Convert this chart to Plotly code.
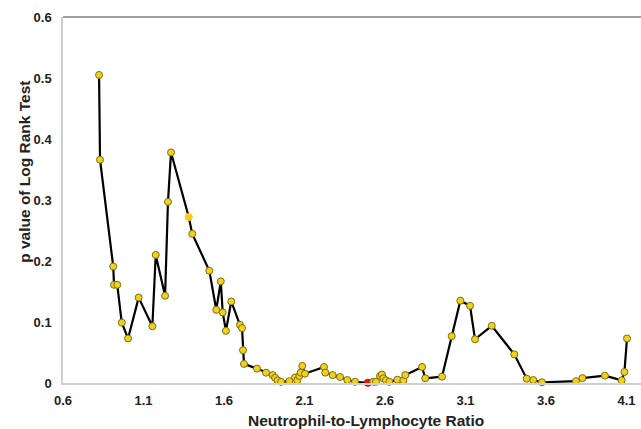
import plotly.graph_objects as go

nlr = [0.824, 0.83, 0.912, 0.917, 0.937, 0.965, 1.004, 1.070, 1.155, 1.176, 1.234, 1.252, 1.271,
       1.381, 1.403, 1.509, 1.552, 1.580, 1.592, 1.612, 1.645, 1.699, 1.712, 1.718, 1.724, 1.805,
       1.861, 1.902, 1.917, 1.933, 1.954, 2.006, 2.041, 2.055, 2.068, 2.076, 2.086, 2.103,
       2.221, 2.229, 2.275, 2.321, 2.366, 2.414, 2.493, 2.527, 2.544, 2.569, 2.581, 2.590, 2.606,
       2.627, 2.677, 2.714, 2.726, 2.830, 2.850, 2.954, 3.014, 3.068, 3.128, 3.159, 3.263, 3.403,
       3.480, 3.521, 3.575, 3.786, 3.826, 3.966, 4.070, 4.087, 4.103]
pval = [0.505, 0.366, 0.191, 0.161, 0.161, 0.099, 0.073, 0.140, 0.093, 0.210, 0.143, 0.297, 0.378,
        0.272, 0.2445, 0.184, 0.120, 0.1666, 0.1157, 0.0855, 0.1337, 0.0954, 0.090, 0.0538, 0.0313, 0.0236,
        0.0169, 0.013, 0.0087, 0.0044, 0.002, 0.003, 0.009, 0.0044, 0.0115, 0.017, 0.028, 0.0153,
        0.0263, 0.017, 0.013, 0.0099, 0.0049, 0.002, 0.0003, 0.002, 0.002, 0.0115, 0.014, 0.0077, 0.0044,
        0.002, 0.0054, 0.0044, 0.013, 0.0263, 0.0077, 0.0104, 0.0768, 0.1349, 0.1266, 0.0717, 0.0938, 0.047,
        0.0071, 0.0049, 0.0012, 0.003, 0.008, 0.012, 0.0044, 0.018, 0.073]

highlight_orange = 1.381
highlight_red = 2.493

fill = []
edge = []
for x in nlr:
    if x == highlight_orange:
        fill.append("#FFC91A"); edge.append("#FFC91A")
    elif x == highlight_red:
        fill.append("#E8140C"); edge.append("#C00000")
    else:
        fill.append("#F2D01E"); edge.append("#7A6E14")

x_ticks = [0.6, 1.1, 1.6, 2.1, 2.6, 3.1, 3.6, 4.1]
y_ticks = [0, 0.1, 0.2, 0.3, 0.4, 0.5, 0.6]
y_labels = ["0", "0.1", "0.2", "0.3", "0.4", "0.5", "0.6"]
x_title = "Neutrophil-to-Lymphocyte Ratio"
y_title = "p value of Log Rank Test"

fig = go.Figure()
fig.add_trace(go.Scatter(
    x=nlr, y=pval, mode="lines+markers",
    line=dict(color="black", width=2.2),
    marker=dict(size=7, color=fill, line=dict(color=edge, width=1)),
    showlegend=False, cliponaxis=False,
))

font_family = "Liberation Sans, Arial, sans-serif"
fig.update_layout(
    width=641, height=429,
    margin=dict(l=63, r=0, t=17, b=46),
    paper_bgcolor="white", plot_bgcolor="white",
    font=dict(family=font_family, color="#222222"),
    xaxis=dict(
        range=[0.6, 4.19], tickvals=x_ticks, ticktext=[str(v) for v in x_ticks],
        showgrid=False, zeroline=False, showline=True, linecolor="#D0D0D0", linewidth=1.5,
        ticks="outside", ticklen=5, tickcolor="rgba(0,0,0,0)",
        tickfont=dict(size=13, family=font_family, color="#222222", weight="bold"),
    ),
    yaxis=dict(
        range=[0, 0.6], tickvals=y_ticks, ticktext=y_labels,
        showgrid=False, zeroline=False, showline=True, linecolor="#D0D0D0", linewidth=1.5,
        ticks="outside", ticklen=7, tickcolor="rgba(0,0,0,0)",
        tickfont=dict(size=13, family=font_family, color="#222222", weight="bold"),
    ),
    annotations=[
        dict(text="<b>" + x_title + "</b>", xref="paper", yref="paper", x=0.525, y=0,
             xanchor="center", yanchor="middle", yshift=-37, showarrow=False,
             font=dict(size=15.5, family=font_family, color="#222222")),
        dict(text="<b>" + y_title + "</b>", xref="paper", yref="paper", x=0, y=0.577,
             xanchor="center", yanchor="middle", xshift=-38, textangle=-90, showarrow=False,
             font=dict(size=15.5, family=font_family, color="#222222")),
    ],
    shapes=[dict(type="line", xref="paper", yref="paper", x0=0, x1=1, y0=1, y1=1,
                 line=dict(color="#7F7F7F", width=1.5))],
)

fig.write_html("out.html", config={"displayModeBar": False},
               post_script="document.body.style.margin='0';document.body.style.overflow='hidden';")
